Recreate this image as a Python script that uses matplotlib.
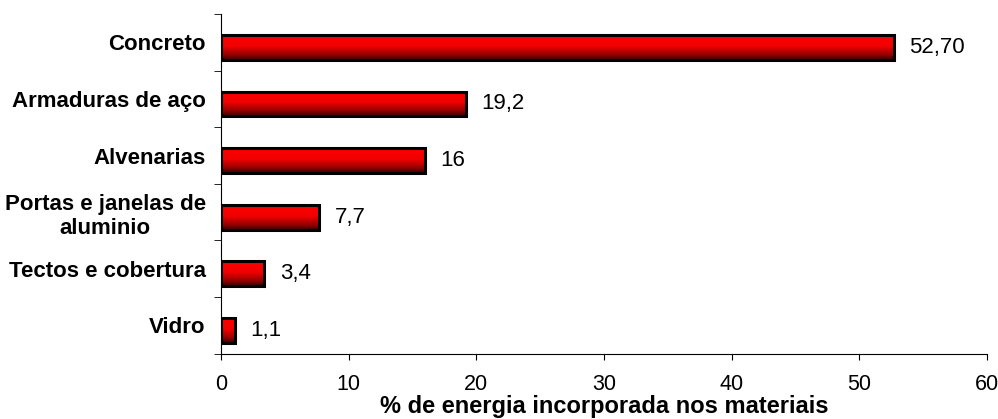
import matplotlib
matplotlib.use("Agg")
import matplotlib.pyplot as plt
import numpy as np
from matplotlib.colors import LinearSegmentedColormap

categories = ["Concreto", "Armaduras de aço", "Alvenarias",
              "Portas e janelas de\naluminio", "Tectos e cobertura", "Vidro"]
values = [52.70, 19.2, 16, 7.7, 3.4, 1.1]
value_labels = ["52,70", "19,2", "16", "7,7", "3,4", "1,1"]
xticks = [0, 10, 20, 30, 40, 50, 60]

plt.rcParams['font.family'] = ['Liberation Sans', 'DejaVu Sans']

fig = plt.figure(figsize=(9.98, 4.19), dpi=100)
ax = fig.add_axes([0.2214, 0.156, 0.989 - 0.2214, 0.9666 - 0.156])

n = len(categories)
ypos = np.arange(n)[::-1]
bar_shift = -0.09
bars = ax.barh(ypos + bar_shift, values, height=0.44, color='none', edgecolor='black',
               linewidth=2.2, zorder=3)

cmap = LinearSegmentedColormap.from_list('rg', [(0, '#ff0000'), (0.45, '#f00000'),
                                                  (0.8, '#900000'), (1, '#300000')])
grad = np.linspace(0, 1, 256).reshape(-1, 1)
for b in bars:
    x0, y0 = b.get_x(), b.get_y()
    w, h = b.get_width(), b.get_height()
    im = ax.imshow(grad, cmap=cmap, aspect='auto',
                   extent=[x0, x0 + w, y0, y0 + h], origin='upper', zorder=2)
    im.set_clip_path(b)

for y, v, lab in zip(ypos + bar_shift, values, value_labels):
    ax.annotate(lab, (v, y), xytext=(11, 0), textcoords='offset points',
                va='center', ha='left', fontsize=16)

ax.set_xlim(0, 60)
ax.set_ylim(-0.5, n - 0.5)
ax.set_xticks(xticks)
ax.set_xticklabels([str(t) for t in xticks], fontsize=15.5)
ax.set_yticks(ypos)
ax.set_yticklabels(categories, fontsize=16, fontweight='bold', multialignment='center')
ax.tick_params(axis='y', which='major', length=0, pad=11)
ax.set_yticks(np.arange(-0.5, n, 1.0), minor=True)
ax.tick_params(axis='y', which='minor', length=5, direction='out')
ax.tick_params(axis='x', length=4.5, direction='out', pad=10)
ax.spines['top'].set_visible(False)
ax.spines['right'].set_visible(False)
ax.set_xlabel('% de energia incorporada nos materiais', fontsize=17, fontweight='bold', labelpad=0)

fig.savefig('out.png', dpi=100)
